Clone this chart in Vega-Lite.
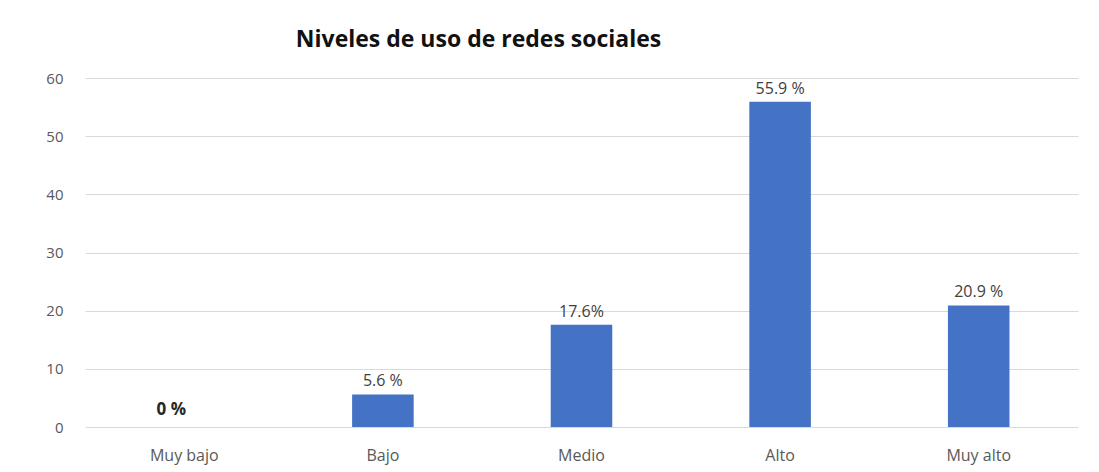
{
  "$schema": "https://vega.github.io/schema/vega-lite/v6.json",
  "autosize": "none",
  "width": 993,
  "height": 349,
  "padding": {"left": 85, "top": 78, "right": 21, "bottom": 45},
  "background": "white",
  "title": {
    "text": "Niveles de uso de redes sociales",
    "anchor": "start",
    "dx": 250,
    "offset": 19,
    "font": "Open Sans",
    "fontSize": 23,
    "fontWeight": "bold",
    "color": "#111111"
  },
  "data": {
    "values": [
      {"nivel": "Muy bajo", "valor": 0, "etiqueta": "0 %"},
      {"nivel": "Bajo", "valor": 5.6, "etiqueta": "5.6 %"},
      {"nivel": "Medio", "valor": 17.6, "etiqueta": "17.6%"},
      {"nivel": "Alto", "valor": 55.9, "etiqueta": "55.9 %"},
      {"nivel": "Muy alto", "valor": 20.9, "etiqueta": "20.9 %"}
    ]
  },
  "encoding": {
    "x": {
      "field": "nivel",
      "type": "nominal",
      "sort": null,
      "scale": {"paddingInner": 0.69, "paddingOuter": 0.345},
      "axis": {
        "title": null,
        "labelAngle": 0,
        "domain": false,
        "ticks": false,
        "labelFont": "Open Sans",
        "labelFontSize": 16,
        "labelColor": "#595959",
        "labelPadding": 20
      }
    },
    "y": {
      "field": "valor",
      "type": "quantitative",
      "scale": {"domain": [0, 60], "nice": false},
      "axis": {
        "title": null,
        "values": [0, 10, 20, 30, 40, 50, 60],
        "domain": false,
        "ticks": false,
        "labelFont": "Open Sans",
        "labelFontSize": 15,
        "labelColor": "#595959",
        "labelPadding": 22,
        "gridColor": "#d9d9d9",
        "gridWidth": 1
      }
    }
  },
  "layer": [
    {"mark": {"type": "bar", "color": "#4472c4"}},
    {
      "transform": [{"filter": "datum.valor > 0"}],
      "mark": {"type": "text", "baseline": "alphabetic", "dy": -8, "font": "Open Sans", "fontSize": 16, "color": "#404040"},
      "encoding": {"text": {"field": "etiqueta"}}
    },
    {
      "transform": [{"filter": "datum.valor == 0"}],
      "mark": {"type": "text", "baseline": "alphabetic", "dy": -12, "dx": -13, "font": "Open Sans", "fontSize": 17, "fontWeight": "bold", "color": "#262626"},
      "encoding": {"text": {"field": "etiqueta"}}
    }
  ],
  "config": {"view": {"stroke": null}}
}
